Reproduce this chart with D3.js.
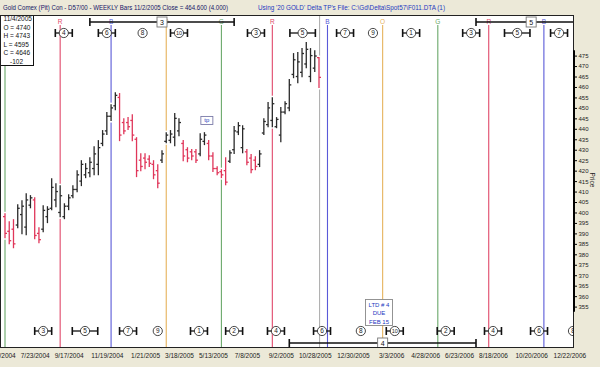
<!DOCTYPE html>
<html><head><meta charset="utf-8">
<script src="https://cdn.jsdelivr.net/npm/d3@7"></script>
<style>
html,body{margin:0;padding:0;background:#ECE9D8;}
svg{display:block;}
text{font-family:"Liberation Sans",Arial,sans-serif;}
</style></head><body>
<svg id="c" width="600" height="367"></svg>
<script>
// ---------------- DATA ----------------
const titleLeft = "Gold Comex (Pit) Con - D57/00  - WEEKLY Bars  11/2/2005 Close = 464.600 (4.000)";
const titleRight = "Using '20 GOLD' Delta TP's   File: C:\\Gd\\Delta\\Spot57\\F011.DTA (1)";
const infoLines = ["11/4/2005", "O = 4740", "H = 4743", "L = 4595", "C = 4646", "-102"];

const firstBarDate = "2004-06-04";   // weekly bars, one per week
const lastBarDate  = "2005-11-04";
const barOpen  = [398,391,392,394,399,393,403.5,406,390,392,398,402,406,400,398,403,408,411,415,418,419,421,423,433,439,446,451,455,443,443,444,435,425,426,425.5,423,420,425,434,434.5,436,439,433,430,429,429,428,434,433,427,421,419.5,420,424.5,430,438.5,431,429,426,425,423,438,442,444,441,437,448,450,466,465,467,471,465,469,474.0];
const barHigh  = [399.6,395.8,396.8,403.9,405.9,409.2,408.3,407.3,392.9,403.5,403.0,416.4,414.0,413.0,404.4,408.7,413.0,420.2,425.0,423.6,426.4,431.7,434.6,439.4,448.0,451.8,457.5,457.1,445.1,445.6,447.0,436.0,428.3,428.3,427.4,425.0,423.1,429.8,438.4,439.4,447.5,445.1,434.6,431.2,430.3,430.3,437.9,438.4,434.6,428.8,422.1,420.7,426.4,429.8,441.3,443.2,441.7,430.3,427.9,426.9,429.8,445.1,452.8,455.1,445.6,450.4,453.2,463.8,476.2,476.7,478.6,481.5,478.6,477.6,474.3];
const barLow   = [387.7,384.8,382.9,392.5,389.6,389.1,402.0,387.2,385.3,390.6,394.9,401.1,402.5,397.7,396.8,401.1,406.8,409.7,412.6,416.4,416.9,417.8,417.8,431.7,437.0,443.7,448.9,434.1,437.4,439.4,434.1,416.9,419.7,420.7,421.7,415.9,411.6,423.6,433.1,433.1,431.7,436.5,424.5,424.0,425.0,423.6,426.9,432.2,425.0,419.3,417.8,416.4,413.0,423.6,427.9,437.0,428.3,422.6,418.8,420.2,421.7,437.0,440.8,440.8,440.3,433.6,447.0,448.4,464.2,461.8,464.7,469.0,462.3,467.1,459.5];
const barClose = [390,386.5,385,402,403,406,407,389,387,401,401.5,412,410,408,403,407,411,418,423,421,424,428,431,437.5,446,450,456,437,439,441,437,420,422,424,423.5,418,414,428,437,437.5,445,443,427,426,427,425,435,437,427,421,419,418,414.5,428.5,439,441.5,440,424,420.5,422,428,443.5,450,452,444.5,448,452,461,473,472,476,478,475,474.8,464.6];

const priceTicks = [355,360,365,370,375,380,385,390,395,400,405,410,415,420,425,430,435,440,445,450,455,460,465,470,475];
const dateTicks = ["2004-05-28","2004-07-23","2004-09-17","2004-11-19","2005-01-21","2005-03-18","2005-05-13","2005-07-08","2005-09-02","2005-10-28","2005-12-30","2006-03-03","2006-04-28","2006-06-23","2006-08-18","2006-10-20","2006-12-22"];

const cycleDates = ["2004-06-04","2004-09-03","2004-11-26","2005-02-25","2005-05-27","2005-08-19","2005-11-18","2006-02-17","2006-05-19","2006-08-11","2006-11-10"];
const cycleTypes = ["G","R","B","O","G","R","B","O","G","R","B"];
const todayDate = "2005-11-05";

const topMarkLabels = ["4","6","8","10","3","5","7","9","1","3","5","7"];
const topMarkDates  = ["2004-09-09","2004-11-19","2005-01-17","2005-03-18","2005-07-23","2005-10-08","2005-12-17","2006-02-01","2006-04-05","2006-07-13","2006-09-27","2006-12-05"];
const topMarkSpan   = [14,14,0,14,14,21,14,0,14,14,21,14];   // days either side
const botMarkLabels = ["3","5","7","9","1","2","4","6","8","10","2","4","6","8"];
const botMarkDates  = ["2004-08-06","2004-10-14","2004-12-24","2005-02-11","2005-04-20","2005-06-17","2005-08-25","2005-11-09","2006-01-12","2006-03-09","2006-06-01","2006-08-18","2006-11-02","2006-12-28"];
const botMarkSpan   = [14,21,14,0,14,14,14,14,0,14,14,14,14,0];

const rangeLabels = ["3","4","5"];
const rangeStart  = ["2004-10-22","2005-09-16","2006-07-21"];
const rangeEnd    = ["2005-06-17","2006-07-21","2007-01-19"];
const rangeRow    = ["top","bottom","top"];

const noteLines = ["LTD # 4","DUE","FEB 15"];
const noteDate = "2006-02-11";
const tpLabel = "tp";
const tpDate = "2005-05-03";
const tpPrice = 444;

// ---------------- DRAW ----------------
const P = d3.utcParse("%Y-%m-%d");
const svg = d3.select("#c");
const L = 0, T = 15, R = 574, B = 348;
const infoW = 34, infoH = 51;

const x = d3.scaleUtc().domain([P(firstBarDate), P(lastBarDate)]).range([5, 319]);
const y = d3.scaleLinear().domain([355, 475]).range([306.6, 55.6]);

const cycleColor = {R:"#e0486a", B:"#5a5ad8", O:"#e6b35c", G:"#6aa86a"};
const redBar = "#e0365a", blackBar = "#2a2a2a";

// background
svg.append("rect").attr("width",600).attr("height",367).attr("fill","#ECE9D8");
svg.append("rect").attr("x",L).attr("y",T).attr("width",R-L).attr("height",B-T).attr("fill","#fff");

svg.append("defs").append("clipPath").attr("id","plot")
  .append("rect").attr("x",L).attr("y",T).attr("width",R-L).attr("height",B-T);
svg.select("defs").append("clipPath").attr("id","xl")
  .append("rect").attr("x",0).attr("y",B).attr("width",600).attr("height",19);

// title
svg.append("text").attr("x",3).attr("y",9.5).attr("font-size",7).attr("fill","#141466")
  .attr("textLength",225).attr("lengthAdjust","spacingAndGlyphs").text(titleLeft);
svg.append("text").attr("x",258).attr("y",9.5).attr("font-size",7).attr("fill","#2438c0")
  .attr("textLength",187).attr("lengthAdjust","spacingAndGlyphs").text(titleRight);

const g = svg.append("g").attr("clip-path","url(#plot)");

// cycle lines
const cyc = cycleDates.map((d,i)=>({d:P(d),t:cycleTypes[i]}));
g.selectAll(".cl").data(cyc).join("line")
  .attr("x1",d=>x(d.d)).attr("x2",d=>x(d.d)).attr("y1",d=>x(d.d)<infoW?T+infoH:25).attr("y2",B)
  .attr("stroke",d=>cycleColor[d.t]).attr("stroke-width",1.1);
g.selectAll(".ct").data(cyc.filter(d=>x(d.d)>infoW)).join("text")
  .attr("x",d=>x(d.d)).attr("y",24).attr("text-anchor","middle").attr("font-size",6.5)
  .attr("fill",d=>cycleColor[d.t]).text(d=>d.t);
g.append("line").attr("x1",x(P(todayDate))).attr("x2",x(P(todayDate))).attr("y1",T).attr("y2",B)
  .attr("stroke","#a9a9a9").attr("stroke-width",1);

// bars
const bars = barHigh.map((h,i)=>({d:d3.utcDay.offset(P(firstBarDate),7*i),o:barOpen[i],h:h,l:barLow[i],c:barClose[i]}));
g.selectAll(".halo").data(bars).join("line")
  .attr("x1",d=>x(d.d)).attr("x2",d=>x(d.d)).attr("y1",d=>y(d.h)-1.5).attr("y2",d=>y(d.l)+1.5)
  .attr("stroke","#fff").attr("stroke-width",3);
const bg = g.selectAll(".bar").data(bars).join("g")
  .attr("stroke",d=>d.c<d.o?redBar:blackBar).attr("stroke-width",1.3);
bg.append("line").attr("x1",d=>x(d.d)).attr("x2",d=>x(d.d)).attr("y1",d=>y(d.h)).attr("y2",d=>y(d.l));
bg.append("line").attr("x1",d=>x(d.d)-2).attr("x2",d=>x(d.d)).attr("y1",d=>y(d.o)).attr("y2",d=>y(d.o));
bg.append("line").attr("x1",d=>x(d.d)).attr("x2",d=>x(d.d)+2).attr("y1",d=>y(d.c)).attr("y2",d=>y(d.c));

// circled markers with I-beams
function marks(labels, dates, spans, yy){
  const data = labels.map((n,i)=>({n, d:P(dates[i]), s:spans[i]}));
  const m = g.append("g").selectAll("g").data(data).join("g");
  const withBar = m.filter(d=>d.s>0);
  withBar.append("line").attr("x1",d=>x(d3.utcDay.offset(d.d,-d.s))).attr("x2",d=>x(d3.utcDay.offset(d.d,d.s)))
    .attr("y1",yy).attr("y2",yy).attr("stroke","#111").attr("stroke-width",1.3);
  withBar.append("line").attr("x1",d=>x(d3.utcDay.offset(d.d,-d.s))).attr("x2",d=>x(d3.utcDay.offset(d.d,-d.s)))
    .attr("y1",yy-4).attr("y2",yy+4).attr("stroke","#111").attr("stroke-width",1.6);
  withBar.append("line").attr("x1",d=>x(d3.utcDay.offset(d.d,d.s))).attr("x2",d=>x(d3.utcDay.offset(d.d,d.s)))
    .attr("y1",yy-4).attr("y2",yy+4).attr("stroke","#111").attr("stroke-width",1.6);
  m.append("circle").attr("cx",d=>x(d.d)).attr("cy",yy).attr("r",4.6)
    .attr("fill","#fff").attr("stroke","#333").attr("stroke-width",0.9);
  m.append("text").attr("x",d=>x(d.d)).attr("y",yy+2.3).attr("text-anchor","middle")
    .attr("font-size",d=>d.n.length>1?5.5:6.5).attr("fill","#222").text(d=>d.n);
}
marks(topMarkLabels, topMarkDates, topMarkSpan, 33);
marks(botMarkLabels, botMarkDates, botMarkSpan, 331);

// range bars
const rng = rangeLabels.map((n,i)=>({n, a:P(rangeStart[i]), b:P(rangeEnd[i]), yy: rangeRow[i]==="top"?22:343}));
const rg = g.append("g").selectAll("g").data(rng).join("g");
rg.append("line").attr("x1",d=>x(d.a)).attr("x2",d=>x(d.b)).attr("y1",d=>d.yy).attr("y2",d=>d.yy)
  .attr("stroke","#111").attr("stroke-width",1.4);
rg.append("line").attr("x1",d=>x(d.a)).attr("x2",d=>x(d.a)).attr("y1",d=>d.yy-4).attr("y2",d=>d.yy+4)
  .attr("stroke","#111").attr("stroke-width",1.6);
rg.append("line").attr("x1",d=>x(d.b)).attr("x2",d=>x(d.b)).attr("y1",d=>d.yy-4).attr("y2",d=>d.yy+4)
  .attr("stroke","#111").attr("stroke-width",1.6);
rg.append("rect").attr("x",d=>(x(d.a)+x(d.b))/2-5).attr("y",d=>d.yy-5).attr("width",10).attr("height",10)
  .attr("fill","#fff").attr("stroke","#777").attr("stroke-width",0.9);
rg.append("text").attr("x",d=>(x(d.a)+x(d.b))/2).attr("y",d=>d.yy+2.5).attr("text-anchor","middle")
  .attr("font-size",7).attr("fill","#111").text(d=>d.n);

// LTD note
const nx = x(P(noteDate));
g.append("rect").attr("x",nx-13.5).attr("y",299.5).attr("width",27).attr("height",26)
  .attr("fill","#fff").attr("stroke","#888").attr("stroke-width",0.9);
g.selectAll(".nt").data(noteLines).join("text")
  .attr("x",nx).attr("y",(d,i)=>306.5+i*8.5).attr("text-anchor","middle").attr("font-size",6)
  .attr("fill","#2438c0").text(d=>d);

// tp note
const tx = x(P(tpDate)), ty = y(tpPrice);
g.append("rect").attr("x",tx-6).attr("y",ty-4).attr("width",12).attr("height",8)
  .attr("fill","#fff").attr("stroke","#7a7aa8").attr("stroke-width",0.9);
g.append("text").attr("x",tx).attr("y",ty+2).attr("text-anchor","middle").attr("font-size",6)
  .attr("fill","#2438c0").text(tpLabel);

// info box
svg.append("rect").attr("x",0.5).attr("y",15.5).attr("width",infoW-1).attr("height",infoH-1)
  .attr("fill","#fff").attr("stroke","#111").attr("stroke-width",1);
svg.selectAll(".info").data(infoLines).join("text")
  .attr("x",(d,i)=>i===5?10:3.5).attr("y",(d,i)=>21+i*8.5).attr("font-size",6.5).attr("fill","#111").text(d=>d);

// plot border
svg.append("rect").attr("x",L+0.5).attr("y",T+0.5).attr("width",R-L-1).attr("height",B-T-1)
  .attr("fill","none").attr("stroke","#222").attr("stroke-width",1);

// right price axis
const ya = svg.append("g").attr("transform",`translate(${R},0)`)
  .call(d3.axisRight(y).tickValues(priceTicks).tickSize(3).tickPadding(1.5).tickFormat(d3.format("d")));
ya.select(".domain").attr("d",`M0,${y(477.5)}V${y(352.5)}`).attr("stroke","#000").attr("stroke-width",2);
ya.selectAll(".tick line").attr("stroke","#000");
ya.selectAll(".tick text").attr("font-size",6).attr("fill","#222").attr("font-family","Liberation Sans, Arial, sans-serif");
svg.append("text").attr("transform","translate(590,180) rotate(90)").attr("text-anchor","middle")
  .attr("font-size",6.5).attr("fill","#222").text("Price");

// bottom date axis
const fmt = d3.utcFormat("%-m/%-d/%Y");
const xa = svg.append("g").attr("clip-path","url(#xl)").append("g").attr("transform",`translate(0,${B})`)
  .call(d3.axisBottom(x).tickValues(dateTicks.map(P)).tickSize(0).tickPadding(5).tickFormat(fmt));
xa.select(".domain").remove();
xa.selectAll(".tick text").attr("font-size",6.5).attr("fill","#222").attr("font-family","Liberation Sans, Arial, sans-serif");
</script>
</body></html>
